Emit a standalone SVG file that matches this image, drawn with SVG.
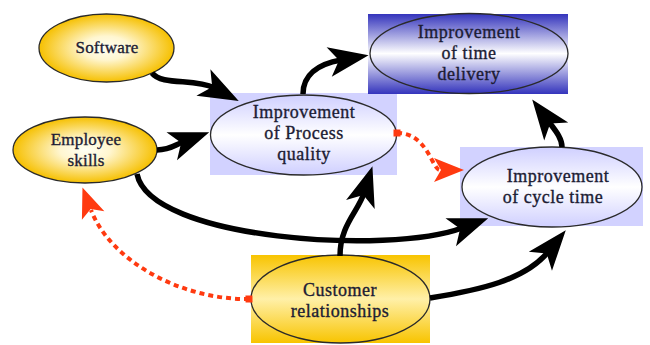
<svg xmlns="http://www.w3.org/2000/svg" width="650" height="345" viewBox="0 0 650 345">
<defs>
<radialGradient id="gold" cx="50%" cy="50%" r="50%">
<stop offset="0%" stop-color="#FFFFF4"/>
<stop offset="35%" stop-color="#FFF6D0"/>
<stop offset="100%" stop-color="#F6C000"/>
</radialGradient>
<linearGradient id="goldBand" x1="0" y1="0" x2="0" y2="1">
<stop offset="0%" stop-color="#F8C400"/>
<stop offset="50%" stop-color="#FFF0A8"/>
<stop offset="100%" stop-color="#F8C400"/>
</linearGradient>
<linearGradient id="lavBand" x1="0" y1="0" x2="0" y2="1">
<stop offset="0%" stop-color="#CFCFFF"/>
<stop offset="50%" stop-color="#FFFFFF"/>
<stop offset="100%" stop-color="#CFCFFF"/>
</linearGradient>
<linearGradient id="blueBand" x1="0" y1="0" x2="0" y2="1">
<stop offset="0%" stop-color="#3434BC"/>
<stop offset="50%" stop-color="#FFFFFF"/>
<stop offset="100%" stop-color="#3434BC"/>
</linearGradient>
<marker id="blk" markerUnits="userSpaceOnUse" markerWidth="44" markerHeight="36" viewBox="0 -18 44 36" refX="12" refY="0" orient="auto" overflow="visible">
<path d="M40,0 L0,-15 L10,0 L0,15 Z" fill="#000"/>
</marker>
<marker id="red" markerUnits="userSpaceOnUse" markerWidth="34" markerHeight="28" viewBox="0 -14 34 28" refX="6" refY="0" orient="auto" overflow="visible">
<path d="M30,0 L0,-12 L7,0 L0,12 Z" fill="#FF3A10"/>
</marker>
<marker id="sq" markerUnits="userSpaceOnUse" markerWidth="8" markerHeight="8" viewBox="-4 -4 8 8" refX="0" refY="0" orient="auto" overflow="visible">
<rect x="-3.5" y="-3.5" width="7" height="7" fill="#FF3A10"/>
</marker>
</defs>
<style>
.lbl{font-family:"Liberation Serif","Times New Roman",serif;font-size:18px;fill:#1C1C34;stroke:#1C1C34;stroke-width:0.35;text-anchor:middle;letter-spacing:0.5px}
.sm{font-size:17px;letter-spacing:0.2px}
.out{stroke:#2A2A2A;stroke-width:1.3}
.arr{fill:none;stroke:#000;stroke-width:5.5;marker-end:url(#blk)}
.dot{fill:none;stroke:#FF3A10;stroke-width:4;stroke-dasharray:5,4;marker-end:url(#red);marker-start:url(#sq)}
</style>
<rect width="650" height="345" fill="#FFFFFF"/>

<g id="software">
<ellipse cx="106.5" cy="48" rx="67.5" ry="34" fill="url(#gold)" class="out"/>
<text class="lbl sm" x="107" y="53">Software</text>
</g>

<g id="employee-skills">
<ellipse cx="85" cy="150" rx="72" ry="33" fill="url(#gold)" class="out"/>
<text class="lbl sm" x="86" y="145">Employee</text>
<text class="lbl sm" x="86" y="166">skills</text>
</g>

<g id="process-quality">
<rect x="210" y="93" width="187" height="82" fill="#D2D2FF"/>
<ellipse cx="303.5" cy="135" rx="93" ry="40" fill="url(#lavBand)" class="out"/>
<text class="lbl" x="304" y="118">Improvement</text>
<text class="lbl" x="304" y="139">of Process</text>
<text class="lbl" x="304" y="160">quality</text>
</g>

<g id="time-delivery">
<rect x="368" y="14" width="200" height="80" fill="url(#blueBand)"/>
<ellipse cx="469" cy="53.5" rx="99" ry="40" fill="url(#blueBand)" class="out"/>
<text class="lbl" x="469" y="38">Improvement</text>
<text class="lbl" x="469" y="59">of  time</text>
<text class="lbl" x="469" y="80">delivery</text>
</g>

<g id="cycle-time">
<rect x="460" y="147" width="183" height="79" fill="#D2D2FF"/>
<ellipse cx="552" cy="187" rx="90" ry="40" fill="url(#lavBand)" class="out"/>
<text class="lbl" x="558" y="182">Improvement</text>
<text class="lbl" x="553" y="203">of cycle time</text>
</g>

<g id="customer-relationships">
<rect x="251" y="255" width="179" height="88" fill="url(#goldBand)"/>
<ellipse cx="340.5" cy="299" rx="89.5" ry="44" fill="url(#goldBand)" class="out"/>
<text class="lbl" x="340" y="296">Customer</text>
<text class="lbl" x="340" y="317">relationships</text>
</g>

<g id="connectors">
<path class="arr" d="M152,73 C162,86 195,78 214,88"/>
<path class="arr" d="M157,150 C170,150 175,145 183,142"/>
<path class="arr" d="M137,174 C150,240 390,255 462,228"/>
<path class="arr" d="M340,256 C340,225 358,212 364,193"/>
<path class="arr" d="M430,298 C480,290 525,280 548,252"/>
<path class="arr" d="M303,94 C303,75 318,64 341,60"/>
<path class="arr" d="M562,147 C562,138 555,130 549,122"/>
<path class="dot" d="M397,133 C428,133 432,170 440,170"/>
<path class="dot" d="M249,299 C180,300 110,260 91,210"/>
</g>
</svg>
